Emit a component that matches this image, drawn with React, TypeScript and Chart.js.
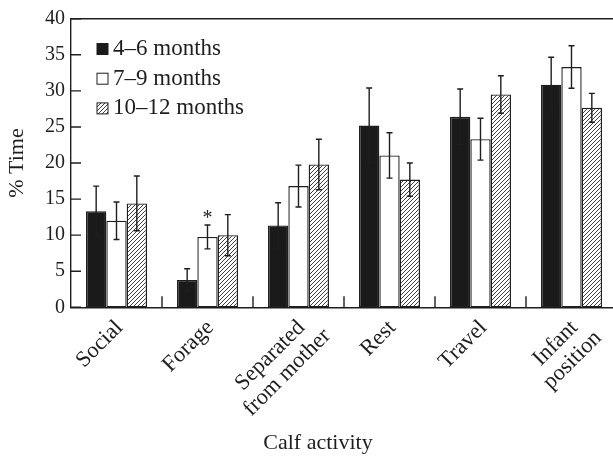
import React, { useEffect, useRef } from "react";
import { Chart, registerables } from "chart.js";

Chart.register(...registerables);

const categories: (string | string[])[] = [
  "Social",
  "Forage",
  ["Separated", "from mother"],
  "Rest",
  "Travel",
  ["Infant", "position"],
];
const seriesLabels = ["4–6 months", "7–9 months", "10–12 months"];
const m4to6 = [13.3, 3.8, 11.35, 25.2, 26.4, 30.85];
const m4to6Err = [3.5, 1.55, 3.15, 5.2, 3.85, 3.8];
const m7to9 = [12.0, 9.75, 16.8, 21.05, 23.3, 33.3];
const m7to9Err = [2.6, 1.65, 2.9, 3.15, 2.9, 2.95];
const m10to12 = [14.4, 10.0, 19.8, 17.7, 29.5, 27.65];
const m10to12Err = [3.8, 2.85, 3.5, 2.3, 2.6, 2.0];
const yTitle = "% Time";
const xTitle = "Calf activity";
// significance marker: [dataset index, category index]
const starMarks: [number, number][] = [[1, 1]];

const FONT = "'Liberation Serif', 'Times New Roman', serif";
const INK = "#1e1e1e";

function makeHatch(): CanvasPattern | string {
  const pc = document.createElement("canvas");
  pc.width = 4;
  pc.height = 4;
  const c = pc.getContext("2d");
  if (!c) return "#888";
  c.fillStyle = "#ffffff";
  c.fillRect(0, 0, 4, 4);
  c.strokeStyle = "#2a2a2a";
  c.lineWidth = 0.9;
  c.beginPath();
  c.moveTo(0, 4);
  c.lineTo(4, 0);
  c.moveTo(-1, 1);
  c.lineTo(1, -1);
  c.moveTo(3, 5);
  c.lineTo(5, 3);
  c.stroke();
  const p = c.createPattern(pc, "repeat");
  return p || "#888";
}

export default function App() {
  const ref = useRef<HTMLCanvasElement | null>(null);

  useEffect(() => {
    const canvas = ref.current;
    if (!canvas) return;
    const hatch = makeHatch();
    const errs = [m4to6Err, m7to9Err, m10to12Err];
    const fills: any[] = ["#1a1a1a", "#ffffff", hatch];

    const decor = {
      id: "decor",
      afterDatasetsDraw(chart: any) {
        const ctx = chart.ctx;
        const y = chart.scales.y;
        ctx.save();
        ctx.strokeStyle = INK;
        ctx.lineWidth = 1.4;
        chart.data.datasets.forEach((ds: any, di: number) => {
          const meta = chart.getDatasetMeta(di);
          meta.data.forEach((bar: any, i: number) => {
            const v = ds.data[i];
            const e = errs[di][i];
            const x = bar.x;
            const yt = y.getPixelForValue(v + e);
            const yb = y.getPixelForValue(v - e);
            ctx.beginPath();
            ctx.moveTo(x, yt);
            ctx.lineTo(x, yb);
            ctx.moveTo(x - 3, yt);
            ctx.lineTo(x + 3, yt);
            ctx.moveTo(x - 3, yb);
            ctx.lineTo(x + 3, yb);
            ctx.stroke();
          });
        });
        // significance stars
        ctx.fillStyle = INK;
        ctx.font = `20px ${FONT}`;
        ctx.textAlign = "center";
        ctx.textBaseline = "middle";
        starMarks.forEach(([di, ci]) => {
          const bar = chart.getDatasetMeta(di).data[ci];
          const ds = chart.data.datasets[di];
          const yt = y.getPixelForValue(ds.data[ci] + errs[di][ci]);
          ctx.fillText("*", bar.x, yt - 6);
        });
        ctx.restore();
      },
      afterDraw(chart: any) {
        const ctx = chart.ctx;
        const a = chart.chartArea;
        const y = chart.scales.y;
        const x = chart.scales.x;
        ctx.save();
        ctx.strokeStyle = INK;
        ctx.lineWidth = 1.4;
        // top frame line
        ctx.beginPath();
        ctx.moveTo(a.left, a.top);
        ctx.lineTo(chart.width, a.top);
        ctx.stroke();
        // inward y ticks
        ctx.beginPath();
        y.ticks.forEach((t: any) => {
          const py = y.getPixelForValue(t.value);
          ctx.moveTo(a.left, py);
          ctx.lineTo(a.left + 10, py);
        });
        ctx.stroke();
        // category separator ticks
        ctx.beginPath();
        for (let i = 1; i < categories.length; i++) {
          const px = (x.getPixelForValue(i - 1) + x.getPixelForValue(i)) / 2;
          ctx.moveTo(px, a.bottom);
          ctx.lineTo(px, a.bottom - 11);
        }
        ctx.stroke();
        // rotated category labels, lines centred on each other
        ctx.fillStyle = INK;
        ctx.font = `22.5px ${FONT}`;
        ctx.textBaseline = "middle";
        ctx.textAlign = "center";
        categories.forEach((lab, i) => {
          const lines = Array.isArray(lab) ? lab : [lab];
          const w0 = ctx.measureText(lines[0]).width;
          const cx = x.getPixelForValue(i);
          ctx.save();
          ctx.translate(cx + 3, a.bottom + 17);
          ctx.rotate(-Math.PI / 4);
          lines.forEach((ln, li) => {
            ctx.fillText(ln, -w0 / 2, li * 24);
          });
          ctx.restore();
        });
        // legend
        ctx.font = `23px ${FONT}`;
        ctx.textAlign = "left";
        ctx.textBaseline = "middle";
        seriesLabels.forEach((lab, i) => {
          const cy = 48 + i * 29.7;
          const sx = a.left + 26;
          ctx.fillStyle = fills[i];
          ctx.fillRect(sx, cy - 4.5, 11, 11);
          ctx.lineWidth = 1;
          ctx.strokeRect(sx, cy - 4.5, 11, 11);
          ctx.fillStyle = INK;
          ctx.fillText(lab, sx + 16, cy + 1);
        });
        // x title
        ctx.font = `22px ${FONT}`;
        ctx.textAlign = "center";
        ctx.fillText(xTitle, 318, 443);
        ctx.restore();
      },
    };

    const chart = new Chart(canvas, {
      type: "bar",
      data: {
        labels: categories as any,
        datasets: [
          { label: seriesLabels[0], data: m4to6, backgroundColor: fills[0] },
          { label: seriesLabels[1], data: m7to9, backgroundColor: fills[1] },
          { label: seriesLabels[2], data: m10to12, backgroundColor: fills[2] },
        ].map((d) => ({
          ...d,
          borderColor: INK,
          borderWidth: 1.4,
          borderSkipped: false,
          barPercentage: 1,
          categoryPercentage: 0.67,
        })) as any,
      },
      plugins: [decor],
      options: {
        responsive: false,
        animation: false,
        layout: { padding: { top: 18.7, right: 3, left: 0, bottom: 0 } },
        plugins: {
          legend: { display: false },
          tooltip: { enabled: false },
        },
        scales: {
          x: {
            grid: { display: false, drawTicks: false },
            border: { display: true, color: INK, width: 1.4 },
            ticks: { display: false },
            afterFit: (s: any) => {
              s.height = 456 - 307.3;
            },
          },
          y: {
            min: 0,
            max: 40,
            grid: { display: false, drawTicks: false },
            border: { display: true, color: INK, width: 1.4 },
            ticks: {
              stepSize: 5,
              color: INK,
              font: { family: FONT, size: 20 },
              padding: 6,
            },
            title: {
              display: true,
              text: yTitle,
              color: INK,
              font: { family: FONT, size: 22 },
              padding: { top: 4, bottom: 0 },
            },
            afterFit: (s: any) => {
              s.width = 71;
            },
          },
        },
      } as any,
    });
    return () => chart.destroy();
  }, []);

  return (
    <div
      style={{
        position: "fixed",
        left: 0,
        top: 0,
        width: 613,
        height: 456,
        overflow: "hidden",
        background: "#fff",
      }}
    >
      <canvas ref={ref} width={620} height={456} style={{ width: 620, height: 456, display: "block" }} />
    </div>
  );
}
